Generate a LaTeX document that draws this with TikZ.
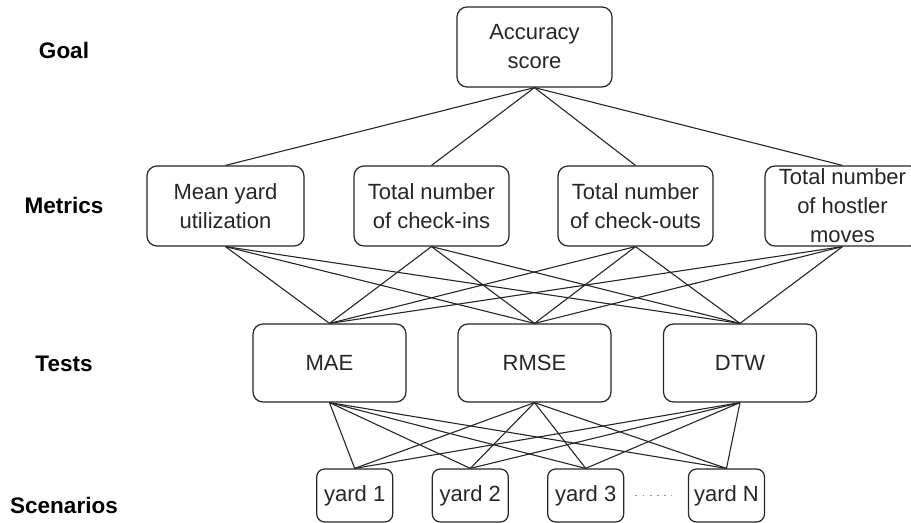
\documentclass[tikz,border=0pt]{standalone}
\usepackage{fontspec}
\setmainfont{Liberation Sans}
\usetikzlibrary{positioning}
\definecolor{ink}{RGB}{38,38,38}
\definecolor{soft}{RGB}{150,150,150}
\tikzset{
  box/.style={draw=ink, rounded corners=5pt, line width=0.6pt, fill=white,
              inner sep=0pt, align=center, minimum width=77.5pt, minimum height=40pt,
              font=\fontsize{11}{14.5}\selectfont, text=ink},
  yardbox/.style={box, rounded corners=4pt, minimum width=38pt, minimum height=26.5pt},
  tier/.style={font=\fontsize{11.25}{15}\selectfont\bfseries, text=black},
  link/.style={ink, line width=0.55pt},
}
\begin{document}
\begin{tikzpicture}[x=0.5pt,y=-0.5pt]
    \useasboundingbox (0,0) rectangle (911,523);
    % row labels
    \node[tier] (lgoal) at (64,50) {Goal};
    \node[tier] (lmet) at (64,205) {Metrics};
    \node[tier] (ltest) at (64,364) {Tests};
    \node[tier] (lscen) at (64,505) {Scenarios};
    % goal
    \node[box] (acc) at (534.5,47) {Accuracy\\score};
    % metrics
    \node[box, minimum width=78.5pt] (mean) at (225.5,206) {Mean yard\\utilization};
    \node[box] (cin) at (431.5,206) {Total number\\of check-ins};
    \node[box] (cout) at (635.5,206) {Total number\\of check-outs};
    \node[box] (host) at (842.5,206) {Total number\\of hostler\\moves};
    % tests
    \node[box, minimum width=76.5pt, minimum height=39pt] (mae) at (329.5,363) {MAE};
    \node[box, minimum width=76.5pt, minimum height=39pt] (rmse) at (534.5,363) {RMSE};
    \node[box, minimum width=76.5pt, minimum height=39pt] (dtw) at (740,363) {DTW};
    % scenarios
    \node[yardbox] (y1) at (354.7,495.5) {yard 1};
    \node[yardbox] (y2) at (470.3,495.5) {yard 2};
    \node[yardbox] (y3) at (585.7,495.5) {yard 3};
    \node[yardbox] (yN) at (726.5,495.5) {yard N};
    \draw[soft, line width=0.9pt, dash pattern=on 0.9pt off 2.7pt, shorten <=5.5pt, shorten >=8pt] (y3) -- (yN);
    % links
    \foreach \m in {mean,cin,cout,host} \draw[link] (acc.south) -- (\m.north);
    \foreach \m in {mean,cin,cout,host} \foreach \t in {mae,rmse,dtw} \draw[link] (\m.south) -- (\t.north);
    \foreach \t in {mae,rmse,dtw} \foreach \y in {y1,y2,y3,yN} \draw[link] (\t.south) -- (\y.north);
\end{tikzpicture}
\end{document}
